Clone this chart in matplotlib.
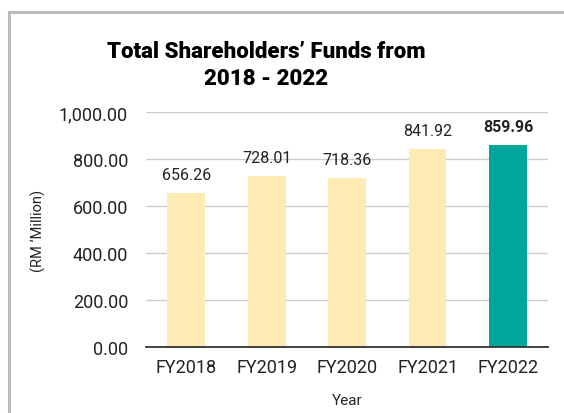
import matplotlib.pyplot as plt
from matplotlib.lines import Line2D
from matplotlib.ticker import FuncFormatter

plt.rcParams['font.family'] = ['Roboto', 'DejaVu Sans']

years = ['FY2018', 'FY2019', 'FY2020', 'FY2021', 'FY2022']
funds = [656.26, 728.01, 718.36, 841.92, 859.96]
bar_colors = ['#FDEBB3', '#FDEBB3', '#FDEBB3', '#FDEBB3', '#00A69C']

fig = plt.figure(figsize=(5.64, 4.14), dpi=100)
ax = fig.add_axes([0.259, 0.159, 0.713, 0.568])

bars = ax.bar(years, funds, width=0.47, color=bar_colors, zorder=3)

for i, (b, v) in enumerate(zip(bars, funds)):
    last = i == len(funds) - 1
    ax.annotate(f'{v:.2f}', (b.get_x() + b.get_width() / 2, v),
                xytext=(0, 8), textcoords='offset points',
                ha='center', va='bottom', fontsize=11.5,
                fontweight='bold' if last else 'normal', color='#222222')

ax.set_ylim(0, 1000)
ax.set_yticks([0, 200, 400, 600, 800, 1000])
ax.yaxis.set_major_formatter(FuncFormatter(lambda v, p: f'{v:,.2f}'))
ax.set_xlim(-0.5, 4.5)
ax.grid(axis='y', color='#cccccc', linewidth=1, zorder=0)
ax.tick_params(axis='y', length=0, pad=13, labelsize=13, labelcolor='#222222')
ax.tick_params(axis='x', length=0, pad=8, labelsize=13, labelcolor='#222222')
for s in ['top', 'right', 'left']:
    ax.spines[s].set_visible(False)
ax.spines['bottom'].set_color('#333333')
ax.spines['bottom'].set_linewidth(1.3)
ax.spines['bottom'].set_zorder(4)

ax.set_ylabel("(RM \u2018Million)", fontsize=10.5, color='#222222', labelpad=9)
ax.set_xlabel('Year', fontsize=11, color='#222222', labelpad=12)

fig.text(0.472, 0.842, 'Total Shareholders\u2019 Funds from\n2018 - 2022',
         ha='center', va='center', fontsize=16, fontweight='black',
         linespacing=1.28, color='black')

# outer frame
fig.add_artist(Line2D([0.016, 1.0], [0.968, 0.968], color='#bbbbbb', linewidth=2.2,
                      transform=fig.transFigure))
fig.add_artist(Line2D([0.016, 0.016], [0.0, 0.968], color='#bbbbbb', linewidth=2.2,
                      transform=fig.transFigure))

fig.savefig('out.png', dpi=100)
